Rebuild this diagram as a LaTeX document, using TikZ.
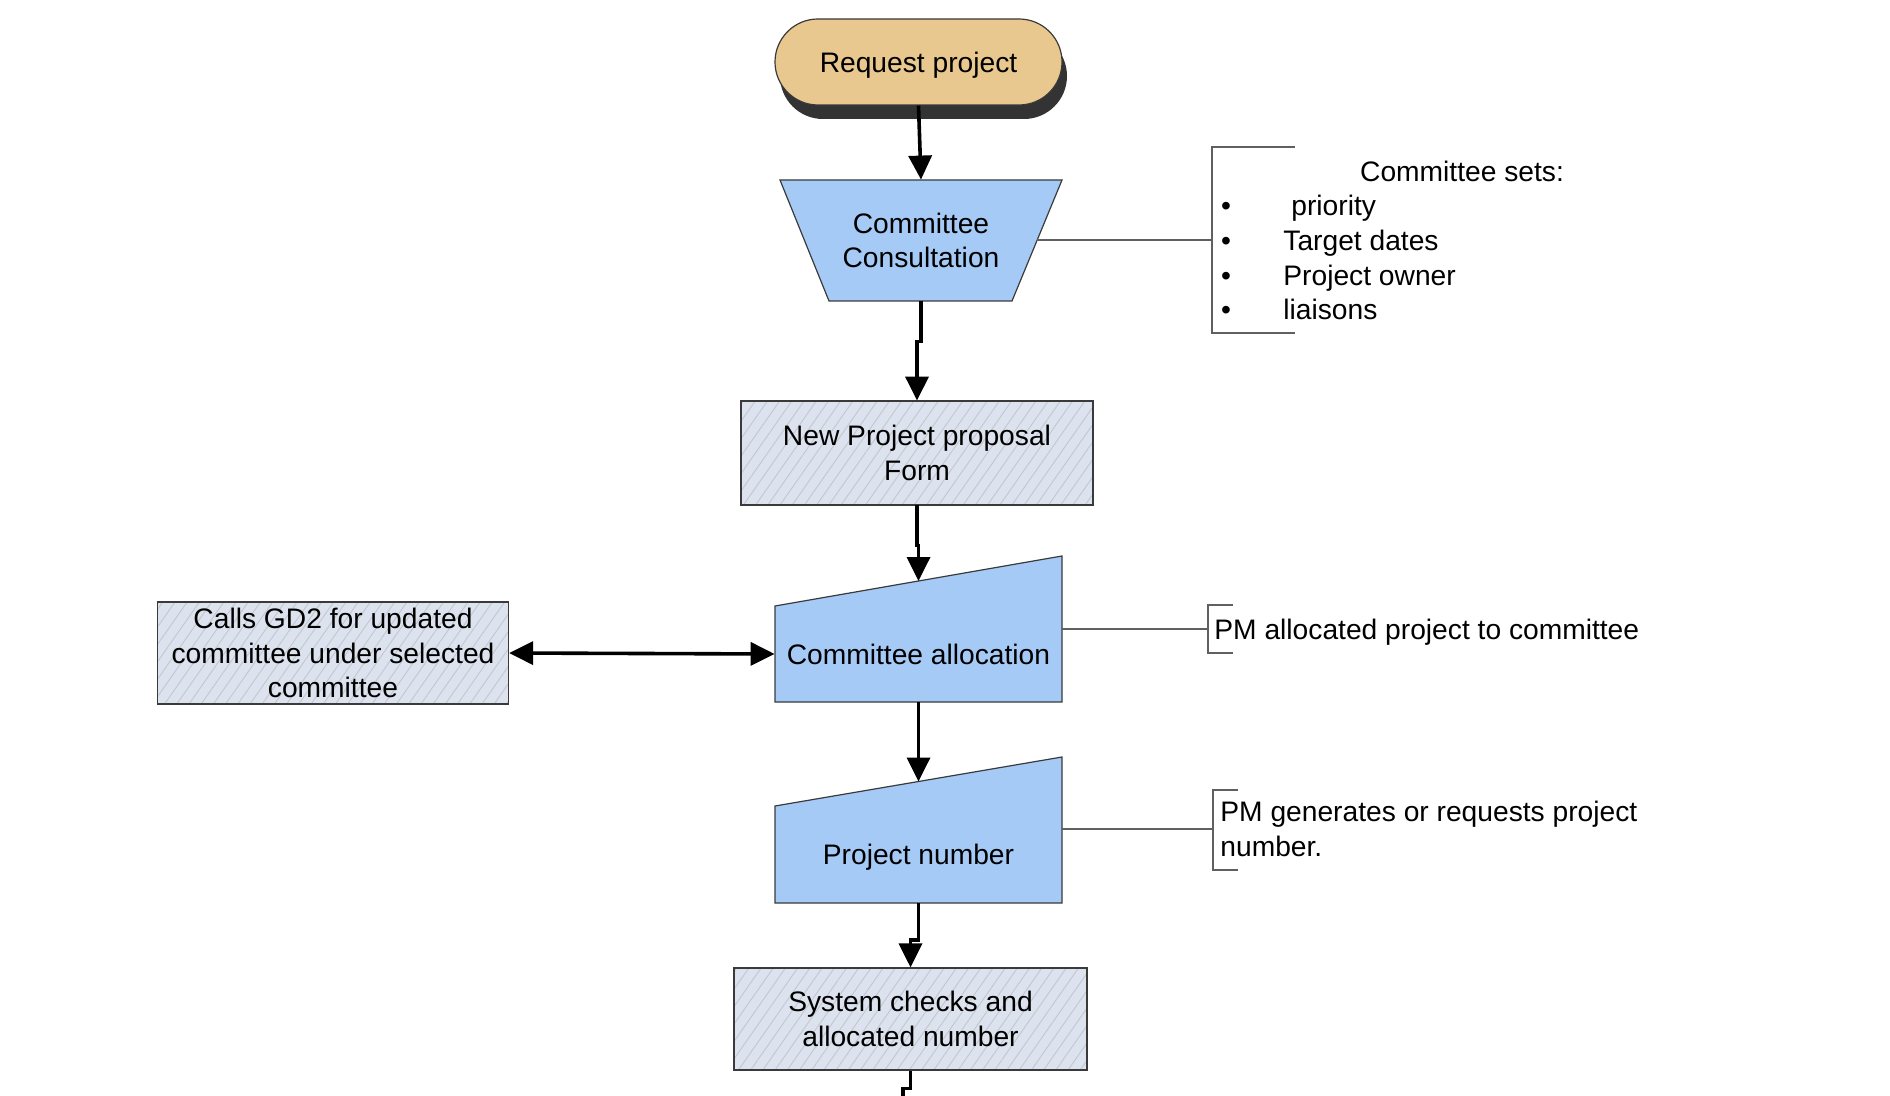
\documentclass[tikz,border=0pt]{standalone}
\usepackage{fontspec}
\setmainfont{Liberation Sans}
\usetikzlibrary{arrows.meta,patterns.meta,shadows}
\definecolor{tanf}{HTML}{E8C88E}
\definecolor{bluef}{HTML}{A6CAF6}
\definecolor{boxf}{HTML}{DDE3EE}
\definecolor{hatchc}{HTML}{C2C7CF}
\definecolor{shad}{HTML}{333333}
\definecolor{edge}{HTML}{3A3A3A}
\definecolor{notec}{HTML}{606060}
\begin{document}
\begin{tikzpicture}[x=0.5pt,y=-0.5pt,
  txt/.style={font=\fontsize{14.1pt}{17.2pt}\selectfont, align=center, text height=10.1pt, text depth=0pt, inner sep=0pt},
  ltxt/.style={font=\fontsize{14.1pt}{17.2pt}\selectfont, align=left, text height=10.1pt, text depth=0pt, inner sep=0pt},
  two/.style={text height=27.3pt, text depth=0pt},
  three/.style={text height=44.5pt, text depth=0pt},
  blueshape/.style={fill=bluef, draw=edge, line width=0.6pt},
  hatchbox/.style={draw=edge, line width=0.6pt, preaction={fill=boxf}, pattern={Lines[angle=55,distance=5pt,line width=0.45pt]}, pattern color=hatchc},
  conn/.style={line width=1.8pt, draw=black, -{Triangle[length=12pt,width=11.5pt]}},
  dconn/.style={line width=1.8pt, draw=black, {Triangle[length=12pt,width=11.5pt]}-{Triangle[length=12pt,width=11.5pt]}},
  plain/.style={line width=1.8pt, draw=black},
  note/.style={draw=notec, line width=0.6pt}
]
\useasboundingbox (0,0) rectangle (1890,1096);

% Request project
\node[txt, minimum width=143.5pt, minimum height=43pt, rounded corners=21.5pt, fill=tanf, draw=edge, line width=0.6pt,
  drop shadow={shadow xshift=2.5pt, shadow yshift=-7pt, fill=shad, opacity=1}] (rp) at (918.5,62) {Request project};

% Committee Consultation
\path[blueshape] (780,180) -- (1062,180) -- (1012,301) -- (829,301) -- cycle;
\node[txt, two, minimum width=141pt, minimum height=60.5pt] (cc) at (921,240.5) {Committee\\Consultation};

% New Project proposal Form
\node[txt, two, hatchbox, minimum width=176pt, minimum height=52pt] (npf) at (917,453) {New Project proposal\\Form};

% Committee allocation
\path[blueshape] (775,606) -- (1062,556) -- (1062,702) -- (775,702) -- cycle;
\node[txt, minimum width=143.5pt, minimum height=48pt] (ca) at (918.5,654) {Committee allocation};
\coordinate (catop) at (918.5,581);

% Calls GD2
\node[txt, three, hatchbox, minimum width=175.5pt, minimum height=51pt] (gd2) at (333,653) {Calls GD2 for updated\\committee under selected\\committee};

% Project number
\path[blueshape] (775,806) -- (1062,757) -- (1062,903) -- (775,903) -- cycle;
\node[txt, minimum width=143.5pt, minimum height=48pt] (pn) at (918.5,854.5) {Project number};
\coordinate (pntop) at (918.5,781.5);

% System checks
\node[txt, two, hatchbox, minimum width=176.5pt, minimum height=51pt] (sc) at (910.5,1019) {System checks and\\allocated number};
\coordinate (endc) at (903,1100);

% connectors
\draw[conn] (rp.south) -- (cc.north);
\draw[conn] (cc.south) -- ++(0,40) -| (npf.north);
\draw[conn] (npf.south) -- ++(0,40) -| (catop);
\draw[dconn] (gd2.east) -- (ca.west);
\draw[conn] (ca.south) -- (pntop);
\draw[conn] (pn.south) -- ++(0,37) -| (sc.north);
\draw[plain] (sc.south) -- ++(0,18) -| (endc);

% comment 1
\coordinate (ccR) at (1037,240);
\coordinate (b1) at (1212,240);
\draw[note] (ccR) -- (b1);
\draw[note] (1295,147) -- (1212,147) -- (1212,333) -- (1295,333);
\node[txt] (cs) at (1462,171) {Committee sets:};
\node[txt] (bu1) at (1226,205) {•};
\node[txt] (bu2) at (1226,240) {•};
\node[txt] (bu3) at (1226,275) {•};
\node[txt] (bu4) at (1226,309) {•};
\node[ltxt, anchor=west] (it1) at (1291,205) {priority};
\node[ltxt, anchor=west] (it2) at (1283,240) {Target dates};
\node[ltxt, anchor=west] (it3) at (1283,275) {Project owner};
\node[ltxt, anchor=west] (it4) at (1283,309) {liaisons};

% comment 2
\coordinate (caR) at (1062,629);
\coordinate (b2) at (1208,629);
\draw[note] (caR) -- (b2);
\draw[note] (1233,605) -- (1208,605) -- (1208,653) -- (1233,653);
\node[ltxt, anchor=west] (pm1) at (1214,629) {PM allocated project to committee};

% comment 3
\coordinate (pnR) at (1062,829);
\coordinate (b3) at (1213,829);
\draw[note] (pnR) -- (b3);
\draw[note] (1238,790) -- (1213,790) -- (1213,870) -- (1238,870);
\node[ltxt, two, anchor=west] (pm2) at (1220,829) {PM generates or requests project\\number.};
\end{tikzpicture}
\end{document}
